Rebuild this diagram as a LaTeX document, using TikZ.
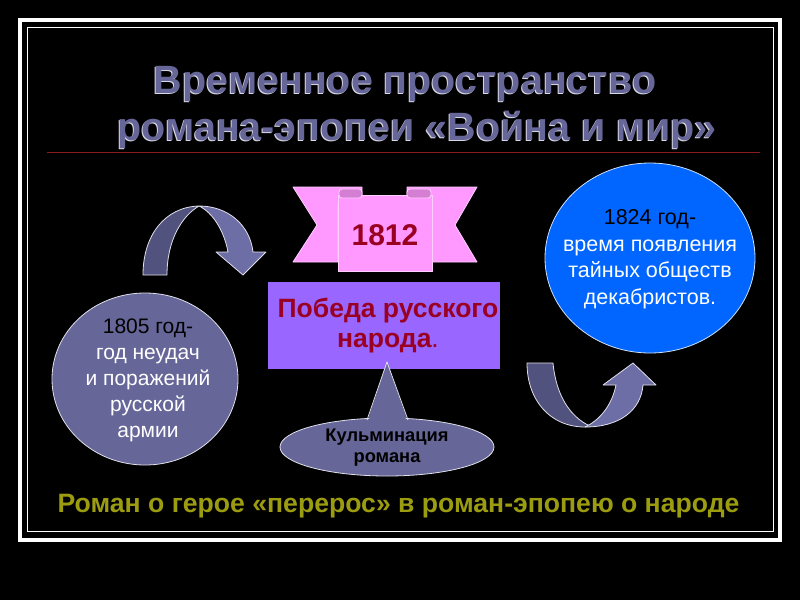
\documentclass[tikz,border=0pt]{standalone}
\usepackage{fontspec}
\setmainfont{Liberation Sans}
\usetikzlibrary{shapes.geometric}
\definecolor{slate}{HTML}{666699}
\definecolor{slatedark}{HTML}{52527E}
\definecolor{slatelight}{HTML}{6E6EA6}
\definecolor{pinkrib}{HTML}{FF99FF}
\definecolor{pinkroll}{HTML}{D47FD4}
\definecolor{pinkedge}{HTML}{FFD0FF}
\definecolor{purplebox}{HTML}{9966FF}
\definecolor{darkred}{HTML}{990022}
\definecolor{bluecirc}{HTML}{0066FF}
\definecolor{olive}{HTML}{9C9C10}
\definecolor{redline}{HTML}{8B1A1A}
\tikzset{
  titletext/.style={font=\fontsize{39.5}{46}\selectfont\bfseries, text=slate, anchor=base, inner sep=0},
  titleshadow/.style={font=\fontsize{39.5}{46}\selectfont\bfseries, text=white!75!slate, anchor=base, inner sep=0},
  circtext/.style={align=center, text=white, inner sep=0},
  bandleft/.style={fill=slatedark, draw=white!80!slate, line width=0.8pt, line join=round},
  bandright/.style={fill=slatelight, draw=white!80!slate, line width=0.8pt, line join=round},
  ribbon/.style={fill=pinkrib, draw=pinkedge, line width=0.8pt, line join=round},
}
\begin{document}
\begin{tikzpicture}[x=1pt,y=-1pt]
\fill[black] (0,0) rectangle (800,600);
\useasboundingbox (0,0) rectangle (800,600);
% frame
\draw[white, line width=3.5pt] (20,20) rectangle (780,540);
\draw[white, line width=1.5pt] (27.5,27.5) rectangle (773.5,531.5);
% title
\node[titleshadow] (t1s) at (404,94.2) {Временное пространство};
\node[titletext] (t1) at (405,93) {Временное пространство};
\node[titleshadow] (t2s) at (416,141.2) {романа-эпопеи «Война и мир»};
\node[titletext] (t2) at (417,140) {романа-эпопеи «Война и мир»};
\draw[redline, line width=1pt] (47,152) -- (760,152);
% ribbon
\draw[ribbon] (293,187) -- (362,187) -- (362,205) -- (338,205) -- (338,262) -- (293,262) -- (317,225) -- cycle;
\draw[ribbon] (477,187) -- (407,187) -- (407,205) -- (432,205) -- (432,262) -- (477,262) -- (455,225) -- cycle;
\draw[ribbon] (338,195) rectangle (432,271);
\draw[fill=pinkroll, draw=pinkedge, line width=0.8pt, rounded corners=3pt] (339,189) rectangle (362,198);
\draw[fill=pinkroll, draw=pinkedge, line width=0.8pt, rounded corners=3pt] (407,189) rectangle (431,198);
\node[font=\fontsize{30}{36}\selectfont\bfseries, text=darkred, inner sep=0] (y1812) at (385,235) {1812};
% purple box
\node[fill=purplebox, minimum width=232pt, minimum height=87pt, inner sep=0] (box) at (384,325.5) {};
\node[align=center, font=\fontsize{26.5}{30}\selectfont\bfseries, text=darkred, inner sep=0] (boxt) at (388,326) {Победа русского\\народа{\mdseries.}};
% callout
\fill[slate] (367,422) -- (387,362) -- (408,422) -- cycle;
\node[ellipse, fill=slate, draw=white!80!slate, line width=0.8pt, minimum width=214pt, minimum height=58pt, inner sep=0] (cul) at (387,447) {};
\fill[slate] (368.5,421) -- (387,364) -- (406.5,421) -- cycle;
\draw[white!80!slate, line width=0.8pt] (367,420) -- (387,362) -- (408,420);
\node[align=center, font=\fontsize{18.3}{21}\selectfont\bfseries, text=black, inner sep=0] (cult) at (387,448) {Кульминация\\романа};
% left circle
\node[ellipse, fill=slate, draw=white!80!slate, line width=0.8pt, minimum width=186pt, minimum height=172pt, inner sep=0] (c1) at (145,379) {};
\node[circtext, font=\fontsize{21}{26}\selectfont] (c1t) at (148,380) {\textcolor{black}{1805 год-}\\год неудач\\и поражений\\русской\\армии};
% right circle
\node[ellipse, fill=bluecirc, draw=white!80!bluecirc, line width=0.8pt, minimum width=210pt, minimum height=190pt, inner sep=0] (c2) at (650,258) {};
\node[circtext, font=\fontsize{21.5}{26.5}\selectfont] (c2t) at (650,259) {\textcolor{black}{1824 год-}\\время появления\\тайных обществ\\декабристов.};
% left curved arrow
\draw[bandleft] (143,275) .. controls (143,235) and (165,207) .. (199,206) .. controls (182,216) and (167,240) .. (167,275) -- cycle;
\draw[bandright] (199,206) .. controls (228,206) and (250,225) .. (253,252) -- (266,252) -- (243,275) -- (216,252) -- (228,252) .. controls (224,230) and (212,212) .. (199,206) -- cycle;
% right curved arrow
\draw[bandleft] (527,363) -- (553,363) .. controls (556,395) and (570,417) .. (590,426) -- (585,427) .. controls (550,427) and (527,400) .. (527,363) -- cycle;
\draw[bandright] (585,427) .. controls (620,427) and (641,410) .. (643,385) -- (656,385) -- (633,363) -- (603,385) -- (616,385) .. controls (612,405) and (600,420) .. (585,427) -- cycle;
% bottom text
\node[font=\fontsize{26.6}{30}\selectfont\bfseries, text=olive, anchor=base, inner sep=0] (bottom) at (398.5,512) {Роман о герое «перерос» в роман-эпопею о народе};
\end{tikzpicture}
\end{document}
